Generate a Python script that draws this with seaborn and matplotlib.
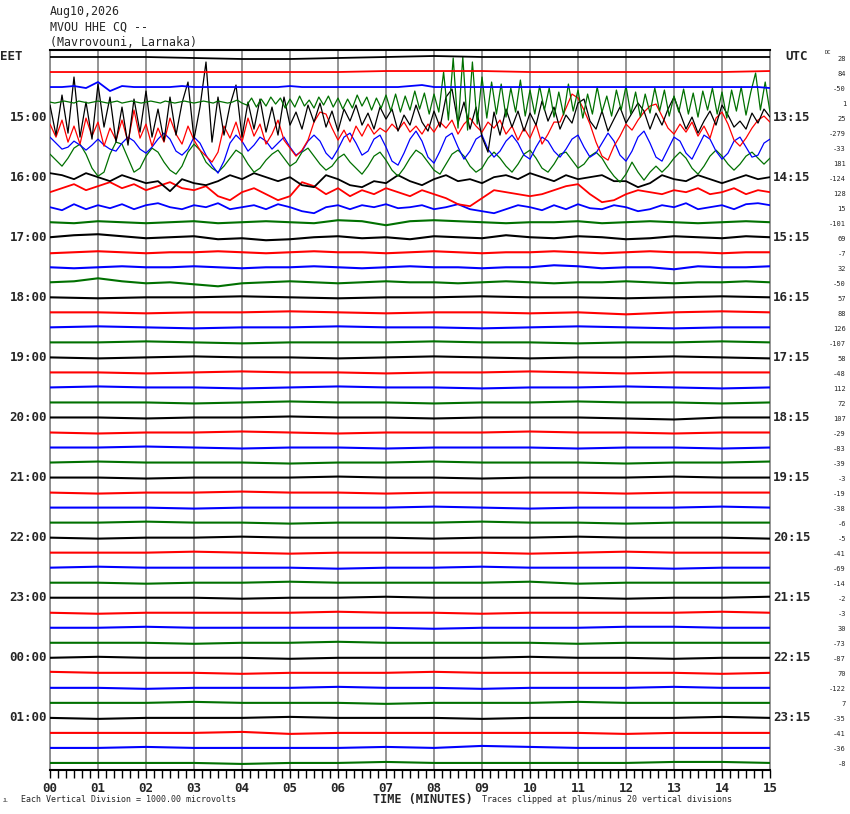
import numpy as np
import matplotlib
matplotlib.use("Agg")
import matplotlib.pyplot as plt
import matplotlib.transforms as mtransforms
import seaborn as sns

# header / labels
date_line = "Aug10,2026"
station_line = "MVOU HHE CQ --"
site_line = "(Mavrovouni, Larnaka)"
eet_labels = ["15:00", "16:00", "17:00", "18:00", "19:00", "20:00",
              "21:00", "22:00", "23:00", "00:00", "01:00"]
utc_labels = ["13:15", "14:15", "15:15", "16:15", "17:15", "18:15",
              "19:15", "20:15", "21:15", "22:15", "23:15"]
dc_values = [28, 84, -50, 1, 25, -279, -33, 181, -124, 128, 15, -101,
             69, -7, 32, -50, 57, 88, 126, -107, 58, -48, 112, 72,
             107, -29, -83, -39, -3, -19, -38, -6, -5, -41, -69, -14,
             -2, -3, 30, -73, -87, 70, -122, 7, -35, -41, -36, -8]
minutes = list(range(16))
trace_colors = ["#000000", "#ff0000", "#0000ff", "#007000"]

# trace deflections (screen units, down = positive)
tr00 = [0, 0, 0, 1, 2, 2, 1, 0, -1, 0, 0, 0, 0, 0, 0, 0]
tr01 = [0, 0, 0, 0, 0, 0, 0, -1, -1, -1, 0, 0, 0, 0, 0, -1]
tr02 = [0, 0, -1, 1, -5, 4, -1, 0, 0, 0, 0, -1, 0, 0, 0, 0,
        0, 0, 0, 0, -1, 0, 0, 0, 0, 0, 0, 0, 0, 0, -1, -2,
        0, 0, 0, 0, 0, 0, 0, 0, 0, 0, 0, 0, 0, 0, 0, 0,
        0, 0, 0, 0, 0, 0, 0, 0, 0, 0, 0, 0, 1]
tr03 = [0, 1, 0, -1, 0, 1, -1, 0, 1, 0, -1, 0, 1, 0, -1, 1, 0, -1, 0, 1,
        0, -1, 0, 1, -1, 0, 1, 0, -1, 0, 1, 0, -1, 0, 1, -1, 0, 1, 0, -2, 1,
        3, -4, 5, -3, 4, -5, 2, -4, 6, -3, 5, -6, 4, -2, 6, -5, 3, -6, 5, -4,
        7, -3, 6, -7, 4, -5, 8, -4, 6, -7,
        9, -8, 10, -6, 8, -11, 7, -9, 12, -8, 10,
        -30, 18, -44, 26, -45, 28, -40, 22, -25,
        16, -20, 12, -18, 15, -14, 10, -22, 14, -12,
        12, -16, 8, -14, 15, -10, 13, -18, 9, -12, 16, -8, 12, -15, 10, -6,
        14, -12, 8, -16, 12, -10, 15, -8, 11, -14, 9, -12, 14, -6, 10, -13,
        12, -9, 15, -11, 8, -14, 12, -10, 16, -12, 9, -15, 13, -10, -29, 8,
        -20, 10]
tr04 = [-12, 18, -22, 16, -40, 20, -15, 22, -33, 10,
        -20, 25, -10, 28, -18, 15, -26, 20, -8, 24,
        -20, 18, -14, -35, 22, -10, -55, 25, -20, 18,
        -12, -32, 20, -15, 12, -18, 15, -10, 18, -20,
        8, -5, 12, -12, 5, -14, 10, -6, 14, -8,
        4, -12, 8, -4, 12, -10, 2, -8, 14, -2,
        8, -12, 5, 14, -6, 10, -20, -28, 6, -15,
        12, -10, 20, 35, -5, 18, -8, 10, -6, 14,
        -4, 8, -16, 4, -10, 12, -2, 6, -14, -18,
        4, 12, -6, 14, 2, -10, 6, -4, -14, -6,
        12, -4, 8, -8, -20, -4, 12, 0, 16, 4,
        -6, 8, -12, -2, 10, 4, 12, -4, 6, -8,
        0]
tr05 = [-8, 5, -12, 10, -6, 12, -14, 4, -10, 14,
        -4, 8, -12, 10, -22, 6, -8, 14, -4, 10,
        -14, 2, 12, -6, 8, 18, 24, 30, 20, -6,
        6, -10, 10, -14, 4, -8, 12, 2, -12, 8,
        16, 24, 18, 8, -10, -20, -18, -4, 8, -2,
        10, -6, 4, -8, 2, -4, 0, -8, -2, -10,
        0, -6, 2, -8, 0, -10, -4, -12, 2, -8,
        -14, -6, 0, -10, -4, -12, 2, -6, 8, -4,
        6, -8, 12, 2, -10, -10, -24, -38, -34, -22,
        -8, 10, 24, 28, 14, 4, -8, -2, -12, -20,
        -26, -28, -16, -4, 2, -8, 0, -10, 4, -6,
        6, -14, -20, -8, 8, 14, 6, -4, -12, -16,
        -10]
tr06 = [-10, -4, 2, 0, -6, -2, 3, -2, -8, -2,
        2, 4, -4, -10, -6, 2, 6, 0, -8, -14,
        -8, 4, 8, 2, -10, -4, 8, 18, 26, 14,
        -4, -12, -6, 4, -2, -10, -6, 2, -4, -10,
        0, 8, 4, -6, -12, -6, 6, 12, 2, -10,
        -14, -4, 8, 4, -8, -12, 0, 14, 18, 6,
        -8, -16, -6, 10, 16, 4, -10, -14, 0, 12,
        4, -8, -12, 2, 10, 4, -6, -12, -4, 8,
        12, 0, -10, -6, 4, 10, 2, -8, -12, 0,
        10, 6, -4, -14, -6, 8, 14, 4, -10, -16,
        -4, 10, 14, 2, -10, -6, 6, 12, 0, -12,
        -8, 4, 12, 6, -6, -10, 0, 10, 8, -4,
        -8]
tr07 = [-8, -2, 4, -4, -14, -18, -8, 6, 14, 10,
        -8, -20, -18, -4, 10, 6, -6, -14, -10, 0,
        8, 12, 4, -10, -18, -12, 0, 6, 10, 4,
        -4, -12, -8, 2, 10, 6, -2, -8, -12, -4,
        4, 0, -10, -14, -6, 2, 8, 4, -4, -8,
        0, 6, 12, 4, -6, -10, -2, 8, 14, 6,
        -4, -12, -8, 0, 8, 12, 2, -8, -12, -6,
        4, 10, 6, -4, -10, -4, 4, 10, 2, -8,
        -12, -4, 6, 10, 2, -8, -10, -2, 6, 2,
        -6, -10, -4, 6, 14, 20, 12, 0, 10, 18,
        10, 4, 10, 4, -4, -10, -4, 6, 12, 4,
        -6, -12, -6, 2, 8, 2, -6, -10, -4, 2,
        -4]
tr08 = [-4, -2, 2, -4, 0, 4, -2, 2, 6, 4,
        14, 2, 6, 8, 4, -2, 2, -4, 0, 4,
        0, 8, 10, -2, 2, 8, 10, 4, 6, -2,
        4, 8, 2, -2, 4, 2, 6, 0, -2, 2,
        -4, 0, 4, -2, 2, 0, -2, 4, 4, 10,
        6, -2, 2, 4, -2, 2, 6, 2, -2, 2,
        0]
tr09 = [0, -4, -8, -2, -6, -10, -4, -8, -2, -6,
        -10, -4, -2, -6, 4, 8, 0, -4, 2, 8,
        4, -10, -6, 2, -4, 4, -2, 2, -4, 0,
        4, -2, 2, 6, 12, 14, 6, -2, 0, 2,
        4, 2, -2, -6, -8, 2, 10, 8, 2, -2,
        0, 2, -2, 0, -4, 2, 0, -4, 2, -2,
        0]
tr10 = [0, 3, -3, 2, -2, 1, -3, 2, -2, -4,
        0, 2, -2, 0, -4, 2, 0, -2, 2, -3,
        0, 4, 6, 0, -2, 2, -2, 0, -3, 1,
        0, -2, 2, 0, -3, 2, 4, 6, 2, -2,
        0, 3, -2, 2, -3, 1, 2, -2, 0, 4,
        2, -2, 0, -4, 2, 0, -2, 2, -3, -4,
        -2]
tr11 = [0, 1, -1, 0, 1, 0, -1, 1, 0, -1, 0, 1, -2, -1, 3, -1,
        -2, -1, 0, 1, 0, 0, -1, 1, 0, -1, 0, 1, 0, -1, 0]
tr12 = [0, -2, -3, -1, 1, 0, -1, 2, 1, 3, 2, 0, -1, 1, 0, 2,
        -1, 0, 1, -2, 0, 1, -1, 0, 2, 1, -1, 0, 1, -1, 0]
tr13 = [1, 0, -1, 0, 1, 0, 0, -1, 0, 1, 0, -1, 0, 0, 1, 0,
        -1, 0, 1, 0, 0, -1, 0, 1, 0, -1, 0, 0, 1, 0, 0]
tr14 = [0, 1, 0, -1, 0, 0, -1, 0, 1, 0, 0, -1, 0, 1, 0, -1,
        0, 0, 1, 0, 0, -2, -1, 1, 0, 0, 2, -1, 0, 0, -1]
tr15 = [0, -1, -4, -1, 1, 0, 2, 4, 1, 0, -1, 0, 1, 0, -1, 0,
        0, 1, 0, -1, 0, 1, 0, 0, -1, 0, 1, 0, 0, -1, 0]
tr16 = [0, 1, 0, 0, -1, 0, 1, 0, 0, -1, 0, 0, 1, 0, -1, 0]
tr17 = [0, 0, 1, 0, 0, -1, 0, 1, 0, 0, 1, 0, 2, 0, -1, 0]
tr18 = [0, -1, 0, 1, 0, 0, -1, 0, 0, 1, 0, -1, 0, 1, 0, 0]
tr19 = [0, 0, -1, 0, 1, 0, 0, 0, -1, 0, 0, 1, 0, 0, -1, 0]
tr20 = [0, 1, 0, -1, 0, 0, 1, 0, -1, 0, 1, 0, 0, -1, 0, 1]
tr21 = [0, 0, 1, 0, -1, 0, 0, 1, 0, 0, -1, 0, 1, 0, 0, 0]
tr22 = [0, -1, 0, 0, 1, 0, -1, 0, 0, 1, 0, 0, -1, 0, 1, 0]
tr23 = [0, 0, 0, 1, 0, -1, 0, 0, 1, 0, 0, -1, 0, 0, 1, 0]
tr24 = [0, 0, 1, 0, 0, -1, 0, 0, 1, 0, 0, 0, 1, 2, 0, 0]
tr25 = [0, 1, 0, 0, -1, 0, 1, 0, 0, 0, -1, 0, 0, 1, 0, 0]
tr26 = [0, 0, -1, 0, 1, 0, 0, 1, 0, 0, 0, 1, 0, 0, 1, 0]
tr27 = [0, -1, 0, 0, 0, 1, 0, 0, -1, 0, 0, 0, 1, 0, 0, -1]
tr28 = [0, 0, 1, 0, 0, 0, -1, 0, 0, 1, 0, 0, 0, -1, 0, 0]
tr29 = [0, 1, 0, 0, -1, 0, 0, 1, 0, 0, 0, 0, 1, 0, 0, 0]
tr30 = [0, 0, 0, 1, 0, 0, 0, 0, -1, 0, 1, 0, 0, 0, -1, 0]
tr31 = [0, 0, -1, 0, 0, 1, 0, 0, 0, -1, 0, 0, 1, 0, 0, 0]
tr32 = [0, 1, 0, 0, -1, 0, 0, 0, 1, 0, 0, -1, 0, 0, 0, 1]
tr33 = [0, 0, 0, -1, 0, 1, 0, 0, 0, 0, 1, 0, -1, 0, 0, 0]
tr34 = [0, -1, 0, 0, 0, 0, 1, 0, 0, -1, 0, 0, 0, 1, 0, 0]
tr35 = [0, 0, 1, 0, 0, -1, 0, 0, 0, 0, -1, 1, 0, 0, 0, 0]
tr36 = [0, 0, 0, 0, 1, 0, 0, -1, 0, 0, 0, 0, 1, 0, 0, -1]
tr37 = [0, 1, 0, 0, 0, 0, -1, 0, 0, 1, 0, 0, 0, 0, -1, 0]
tr38 = [0, 0, -1, 0, 0, 0, 0, 0, 1, 0, 0, 0, -1, -1, 0, 0]
tr39 = [0, 0, 0, 1, 0, 0, -1, 0, 0, 0, 0, 1, 0, 0, 0, 0]
tr40 = [0, -1, 0, 0, 0, 1, 0, 0, 0, 0, -1, 0, 0, 1, 0, 0]
tr41 = [-1, 0, 0, 0, 1, 0, 0, 0, -1, 0, 0, 0, 0, 0, 1, 0]
tr42 = [0, 0, 1, 0, 0, 0, -1, 0, 0, 1, 0, 0, 0, -1, 0, 0]
tr43 = [0, 0, 0, -1, 0, 0, 0, 1, 0, 0, 0, -1, 0, 0, 0, 0]
tr44 = [0, 1, 0, 0, 0, -1, 0, 0, 0, 1, 0, 0, 0, 0, -1, 0]
tr45 = [0, 0, 0, 0, -1, 1, 0, 0, 0, 0, 0, 0, 1, 0, 0, 0]
tr46 = [0, 0, -1, 0, 0, 0, 0, -1, 0, -2, -1, 0, 0, 0, 0, 0]
tr47 = [0, 0, 0, 0, 1, 0, 0, -1, 0, 0, 0, 0, 0, -1, -1, 0]

traces = [tr00, tr01, tr02, tr03, tr04, tr05, tr06, tr07, tr08, tr09,
          tr10, tr11, tr12, tr13, tr14, tr15, tr16, tr17, tr18, tr19,
          tr20, tr21, tr22, tr23, tr24, tr25, tr26, tr27, tr28, tr29,
          tr30, tr31, tr32, tr33, tr34, tr35, tr36, tr37, tr38, tr39,
          tr40, tr41, tr42, tr43, tr44, tr45, tr46, tr47]

ROW_UNITS = 15.0   # deflection units per trace spacing

sns.set_style("white")
plt.rcParams["font.family"] = ["DejaVu Sans Mono", "DejaVu Sans"]

W, H = 850, 814
fig = plt.figure(figsize=(W / 100, H / 100), dpi=100)
ax = fig.add_axes([50 / W, 44 / H, 720 / W, 720 / H])

for k, vals in enumerate(traces):
    t = np.linspace(0, 15, len(vals))
    y = k + np.asarray(vals, dtype=float) / ROW_UNITS
    lw = 0.9 if 3 <= k <= 7 else (1.3 if k <= 10 else 1.5)
    sns.lineplot(x=t, y=y, color=trace_colors[k % 4], lw=lw, ax=ax,
                 estimator=None, sort=False, zorder=200 - k)

ax.set_xlim(0, 15)
ax.set_ylim(47.47, -0.466)
ax.set(xlabel=None, ylabel=None)
ax.set_yticks([])
ax.set_xticks(minutes)
ax.set_xticklabels([f"{m:02d}" for m in minutes], fontsize=9, fontweight="bold")
ax.set_xticks(np.arange(0, 15.001, 1 / 6), minor=True)
ax.tick_params(axis="x", which="both", direction="out", length=5.5,
               width=1, color="black", pad=3, bottom=True)
ax.grid(axis="x", which="major", color="#8c8c8c", lw=1.3)
ax.grid(axis="y", visible=False)
ax.set_axisbelow(True)
for side in ["top", "bottom"]:
    ax.spines[side].set_color("black")
    ax.spines[side].set_linewidth(1.5)
for side in ["left", "right"]:
    ax.spines[side].set_color("#8c8c8c")
    ax.spines[side].set_linewidth(1.3)

# side labels
trans = mtransforms.blended_transform_factory(ax.transAxes, ax.transData)
ax.text(-50 / 720, 0, "EET", transform=trans, ha="left", va="center",
        fontsize=9, fontweight="bold", clip_on=False)
ax.text(735 / 720, 0, "UTC", transform=trans, ha="left", va="center",
        fontsize=9, fontweight="bold", clip_on=False)
for i, lab in enumerate(eet_labels):
    ax.text(-3 / 720, 4 * (i + 1), lab, transform=trans, ha="right",
            va="center", fontsize=9, fontweight="bold", clip_on=False)
for i, lab in enumerate(utc_labels):
    ax.text(1 + 3 / 720, 4 * (i + 1), lab, transform=trans, ha="left",
            va="center", fontsize=9, fontweight="bold", clip_on=False)
for k, dc in enumerate(dc_values):
    ax.text(796 / 720, k + 0.1, str(dc), transform=trans, ha="right",
            va="center", fontsize=5, clip_on=False)
fig.text(825 / W, 1 - 53 / H, "DC", fontsize=4, ha="left", va="center")

# header
fig.text(50 / W, 1 - 12 / H, date_line, fontsize=8.4, ha="left", va="center")
fig.text(50 / W, 1 - 27 / H, station_line, fontsize=8.4, ha="left", va="center")
fig.text(50 / W, 1 - 42 / H, site_line, fontsize=8.4, ha="left", va="center")

# footer
fig.text(3 / W, 1 - 801 / H, "JL", fontsize=3.5, ha="left", va="center")
fig.text(21 / W, 1 - 800 / H, "Each Vertical Division = 1000.00 microvolts",
         fontsize=6, ha="left", va="center")
fig.text(373 / W, 1 - 800 / H, "TIME (MINUTES)", fontsize=8.5,
         fontweight="bold", ha="left", va="center")
fig.text(482 / W, 1 - 800 / H, "Traces clipped at plus/minus 20 vertical divisions",
         fontsize=6, ha="left", va="center")

fig.savefig("out.png", dpi=100)
